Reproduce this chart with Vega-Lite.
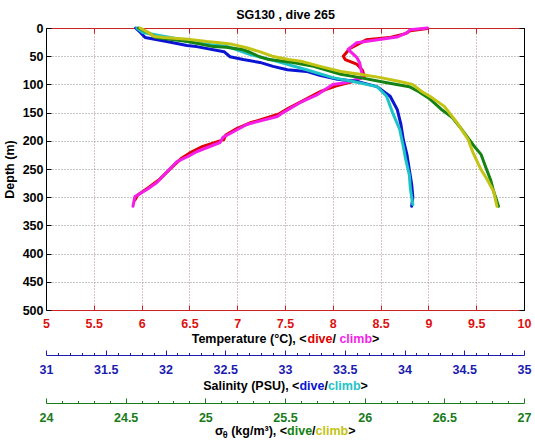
{
 "$schema": "https://vega.github.io/schema/vega-lite/v6.json",
 "width": 478, "height": 282,
 "autosize": {"type": "none"},
 "padding": {"left": 46, "top": 28, "right": 11, "bottom": 132},
 "background": "white",
 "datasets": {"prof": [
  {"var":"T","cast":"dive","depth":1,"value":8.99},{"var":"T","cast":"dive","depth":5,"value":8.81},{"var":"T","cast":"dive","depth":10,"value":8.76},{"var":"T","cast":"dive","depth":17,"value":8.59},{"var":"T","cast":"dive","depth":19,"value":8.46},{"var":"T","cast":"dive","depth":21,"value":8.35},{"var":"T","cast":"dive","depth":36,"value":8.18},{"var":"T","cast":"dive","depth":50,"value":8.11},{"var":"T","cast":"dive","depth":56,"value":8.13},{"var":"T","cast":"dive","depth":64,"value":8.25},{"var":"T","cast":"dive","depth":75,"value":8.31},{"var":"T","cast":"dive","depth":86,"value":8.33},{"var":"T","cast":"dive","depth":95,"value":8.21},{"var":"T","cast":"dive","depth":103,"value":8.03},{"var":"T","cast":"dive","depth":112,"value":7.88},{"var":"T","cast":"dive","depth":127,"value":7.71},{"var":"T","cast":"dive","depth":143,"value":7.53},{"var":"T","cast":"dive","depth":153,"value":7.43},{"var":"T","cast":"dive","depth":168,"value":7.14},{"var":"T","cast":"dive","depth":178,"value":7.00},{"var":"T","cast":"dive","depth":190,"value":6.88},{"var":"T","cast":"dive","depth":198,"value":6.86},{"var":"T","cast":"dive","depth":210,"value":6.64},{"var":"T","cast":"dive","depth":220,"value":6.52},{"var":"T","cast":"dive","depth":232,"value":6.41},{"var":"T","cast":"dive","depth":248,"value":6.31},{"var":"T","cast":"dive","depth":268,"value":6.19},{"var":"T","cast":"dive","depth":283,"value":6.07},{"var":"T","cast":"dive","depth":296,"value":5.96},{"var":"T","cast":"dive","depth":305,"value":5.93},
  {"var":"T","cast":"climb","depth":0,"value":8.99},{"var":"T","cast":"climb","depth":3,"value":8.81},{"var":"T","cast":"climb","depth":8,"value":8.78},{"var":"T","cast":"climb","depth":16,"value":8.67},{"var":"T","cast":"climb","depth":18,"value":8.58},{"var":"T","cast":"climb","depth":26,"value":8.25},{"var":"T","cast":"climb","depth":38,"value":8.16},{"var":"T","cast":"climb","depth":52,"value":8.25},{"var":"T","cast":"climb","depth":61,"value":8.28},{"var":"T","cast":"climb","depth":77,"value":8.30},{"var":"T","cast":"climb","depth":88,"value":8.31},{"var":"T","cast":"climb","depth":97,"value":8.13},{"var":"T","cast":"climb","depth":100,"value":8.00},{"var":"T","cast":"climb","depth":118,"value":7.84},{"var":"T","cast":"climb","depth":132,"value":7.66},{"var":"T","cast":"climb","depth":150,"value":7.48},{"var":"T","cast":"climb","depth":157,"value":7.42},{"var":"T","cast":"climb","depth":171,"value":7.10},{"var":"T","cast":"climb","depth":184,"value":6.96},{"var":"T","cast":"climb","depth":194,"value":6.85},{"var":"T","cast":"climb","depth":203,"value":6.82},{"var":"T","cast":"climb","depth":219,"value":6.58},{"var":"T","cast":"climb","depth":228,"value":6.48},{"var":"T","cast":"climb","depth":237,"value":6.37},{"var":"T","cast":"climb","depth":251,"value":6.29},{"var":"T","cast":"climb","depth":274,"value":6.16},{"var":"T","cast":"climb","depth":286,"value":6.06},{"var":"T","cast":"climb","depth":299,"value":5.93},{"var":"T","cast":"climb","depth":316,"value":5.91},
  {"var":"S","cast":"dive","depth":0,"value":31.75},{"var":"S","cast":"dive","depth":8,"value":31.79},{"var":"S","cast":"dive","depth":17,"value":31.83},{"var":"S","cast":"dive","depth":24,"value":32.01},{"var":"S","cast":"dive","depth":31,"value":32.18},{"var":"S","cast":"dive","depth":33,"value":32.26},{"var":"S","cast":"dive","depth":42,"value":32.49},{"var":"S","cast":"dive","depth":51,"value":32.54},{"var":"S","cast":"dive","depth":56,"value":32.65},{"var":"S","cast":"dive","depth":61,"value":32.79},{"var":"S","cast":"dive","depth":68,"value":32.90},{"var":"S","cast":"dive","depth":74,"value":33.02},{"var":"S","cast":"dive","depth":77,"value":33.18},{"var":"S","cast":"dive","depth":84,"value":33.29},{"var":"S","cast":"dive","depth":91,"value":33.44},{"var":"S","cast":"dive","depth":95,"value":33.61},{"var":"S","cast":"dive","depth":104,"value":33.77},{"var":"S","cast":"dive","depth":121,"value":33.88},{"var":"S","cast":"dive","depth":145,"value":33.94},{"var":"S","cast":"dive","depth":171,"value":33.97},{"var":"S","cast":"dive","depth":198,"value":33.99},{"var":"S","cast":"dive","depth":224,"value":34.02},{"var":"S","cast":"dive","depth":251,"value":34.04},{"var":"S","cast":"dive","depth":277,"value":34.06},{"var":"S","cast":"dive","depth":300,"value":34.07},{"var":"S","cast":"dive","depth":316,"value":34.06},
  {"var":"S","cast":"climb","depth":0,"value":31.76},{"var":"S","cast":"climb","depth":8,"value":31.81},{"var":"S","cast":"climb","depth":20,"value":32.12},{"var":"S","cast":"climb","depth":24,"value":32.18},{"var":"S","cast":"climb","depth":29,"value":32.34},{"var":"S","cast":"climb","depth":33,"value":32.52},{"var":"S","cast":"climb","depth":47,"value":32.71},{"var":"S","cast":"climb","depth":56,"value":32.88},{"var":"S","cast":"climb","depth":74,"value":33.18},{"var":"S","cast":"climb","depth":88,"value":33.40},{"var":"S","cast":"climb","depth":95,"value":33.57},{"var":"S","cast":"climb","depth":104,"value":33.77},{"var":"S","cast":"climb","depth":121,"value":33.85},{"var":"S","cast":"climb","depth":150,"value":33.90},{"var":"S","cast":"climb","depth":180,"value":33.96},{"var":"S","cast":"climb","depth":210,"value":33.99},{"var":"S","cast":"climb","depth":233,"value":34.01},{"var":"S","cast":"climb","depth":260,"value":34.04},{"var":"S","cast":"climb","depth":286,"value":34.05},{"var":"S","cast":"climb","depth":300,"value":34.06},{"var":"S","cast":"climb","depth":313,"value":34.07},
  {"var":"D","cast":"dive","depth":0,"value":24.58},{"var":"D","cast":"dive","depth":8,"value":24.64},{"var":"D","cast":"dive","depth":17,"value":24.69},{"var":"D","cast":"dive","depth":24,"value":24.89},{"var":"D","cast":"dive","depth":33,"value":25.05},{"var":"D","cast":"dive","depth":34,"value":25.13},{"var":"D","cast":"dive","depth":38,"value":25.23},{"var":"D","cast":"dive","depth":43,"value":25.28},{"var":"D","cast":"dive","depth":51,"value":25.34},{"var":"D","cast":"dive","depth":56,"value":25.40},{"var":"D","cast":"dive","depth":61,"value":25.55},{"var":"D","cast":"dive","depth":68,"value":25.68},{"var":"D","cast":"dive","depth":82,"value":25.85},{"var":"D","cast":"dive","depth":88,"value":25.97},{"var":"D","cast":"dive","depth":97,"value":26.14},{"var":"D","cast":"dive","depth":104,"value":26.28},{"var":"D","cast":"dive","depth":113,"value":26.34},{"var":"D","cast":"dive","depth":126,"value":26.41},{"var":"D","cast":"dive","depth":144,"value":26.48},{"var":"D","cast":"dive","depth":159,"value":26.55},{"var":"D","cast":"dive","depth":180,"value":26.61},{"var":"D","cast":"dive","depth":207,"value":26.68},{"var":"D","cast":"dive","depth":224,"value":26.73},{"var":"D","cast":"dive","depth":247,"value":26.76},{"var":"D","cast":"dive","depth":269,"value":26.79},{"var":"D","cast":"dive","depth":290,"value":26.81},{"var":"D","cast":"dive","depth":316,"value":26.84},
  {"var":"D","cast":"climb","depth":0,"value":24.59},{"var":"D","cast":"climb","depth":6,"value":24.63},{"var":"D","cast":"climb","depth":15,"value":24.68},{"var":"D","cast":"climb","depth":17,"value":24.74},{"var":"D","cast":"climb","depth":20,"value":24.89},{"var":"D","cast":"climb","depth":24,"value":25.01},{"var":"D","cast":"climb","depth":26,"value":25.09},{"var":"D","cast":"climb","depth":29,"value":25.17},{"var":"D","cast":"climb","depth":35,"value":25.26},{"var":"D","cast":"climb","depth":42,"value":25.34},{"var":"D","cast":"climb","depth":50,"value":25.42},{"var":"D","cast":"climb","depth":56,"value":25.52},{"var":"D","cast":"climb","depth":59,"value":25.60},{"var":"D","cast":"climb","depth":68,"value":25.72},{"var":"D","cast":"climb","depth":77,"value":25.85},{"var":"D","cast":"climb","depth":82,"value":25.97},{"var":"D","cast":"climb","depth":88,"value":26.10},{"var":"D","cast":"climb","depth":95,"value":26.22},{"var":"D","cast":"climb","depth":100,"value":26.30},{"var":"D","cast":"climb","depth":113,"value":26.36},{"var":"D","cast":"climb","depth":123,"value":26.42},{"var":"D","cast":"climb","depth":139,"value":26.50},{"var":"D","cast":"climb","depth":168,"value":26.58},{"var":"D","cast":"climb","depth":198,"value":26.65},{"var":"D","cast":"climb","depth":221,"value":26.68},{"var":"D","cast":"climb","depth":251,"value":26.73},{"var":"D","cast":"climb","depth":269,"value":26.77},{"var":"D","cast":"climb","depth":290,"value":26.81},{"var":"D","cast":"climb","depth":316,"value":26.83}
 ]},
 "data": {"name": "prof"},
 "config": {
  "view": {"stroke": "black", "strokeWidth": 1},
  "axis": {"labelFont": "Liberation Sans", "labelFontSize": 12.5, "labelFontWeight": "bold", "titleFont": "Liberation Sans", "titleFontSize": 12.5, "titleFontWeight": "bold", "titleColor": "black", "labelFlush": false, "labelOverlap": false},
  "axisX": {"titleAlign": "left", "titleBaseline": "alphabetic", "titleY": 32, "titleAnchor": "start"}
 },
 "layer": [
  {
   "transform": [{"filter": "datum.var == 'T'"}],
   "mark": {"type": "line", "strokeWidth": 3, "strokeJoin": "round", "strokeCap": "round"},
   "encoding": {
    "x": {"field": "value", "type": "quantitative", "scale": {"domain": [5, 10], "nice": false, "zero": false},
     "axis": {"orient": "bottom", "values": [5,5.5,6,6.5,7,7.5,8,8.5,9,9.5,10], "format": "~g", "labelColor": "#dd1111", "labelPadding": 12, "tickSize": -5, "tickColor": "#cc2222", "domainColor": "#cc2222", "grid": true, "gridColor": "#b08888", "gridDash": [1, 2], "title": "Temperature (°C), <", "titleX": 145.2}},
    "y": {"field": "depth", "type": "quantitative", "scale": {"domain": [0, 500], "reverse": true, "nice": false, "zero": false},
     "axis": {"orient": "left", "values": [0,50,100,150,200,250,300,350,400,450,500], "grid": true, "gridColor": "#909090", "gridDash": [1, 2], "tickSize": -5, "tickColor": "black", "domainColor": "black", "labelColor": "black", "labelPadding": 8, "title": "Depth (m)", "titlePadding": 6}},
    "color": {"field": "cast", "type": "nominal", "scale": {"domain": ["dive", "climb"], "range": ["#e00000", "#f41ee8"]}, "legend": null},
    "order": {"field": "depth", "type": "quantitative"}
   }
  },
  {
   "transform": [{"filter": "datum.var == 'S'"}],
   "mark": {"type": "line", "strokeWidth": 3, "strokeJoin": "round", "strokeCap": "round"},
   "encoding": {
    "x": {"field": "value", "type": "quantitative", "scale": {"domain": [31, 35], "nice": false, "zero": false},
     "axis": {"orient": "bottom", "offset": 45, "values": [31,31.1,31.2,31.3,31.4,31.5,31.6,31.7,31.8,31.9,32,32.1,32.2,32.3,32.4,32.5,32.6,32.7,32.8,32.9,33,33.1,33.2,33.3,33.4,33.5,33.6,33.7,33.8,33.9,34,34.1,34.2,34.3,34.4,34.5,34.6,34.7,34.8,34.9,35],
      "labelExpr": "abs(datum.value*2-round(datum.value*2)) < 0.001 ? format(datum.value, '~g') : ''",
      "tickSize": {"condition": {"test": "abs(datum.value*2-round(datum.value*2)) < 0.001", "value": -5}, "value": -2.5},
      "labelColor": "#1b1bb0", "tickColor": "#1b1bb0", "domainColor": "#1b1bb0", "labelPadding": 13, "grid": false, "title": "Salinity (PSU), <", "titleX": 156.7, "titleY": 34}},
    "y": {"field": "depth", "type": "quantitative", "scale": {"domain": [0, 500], "reverse": true, "nice": false, "zero": false},
     "axis": {"orient": "right", "values": [0,50,100,150,200,250,300,350,400,450,500], "grid": false, "labels": false, "tickSize": -5, "tickColor": "black", "domainColor": "black", "title": null}},
    "color": {"field": "cast", "type": "nominal", "scale": {"domain": ["dive", "climb"], "range": ["#0a14d2", "#1ec3c8"]}, "legend": null},
    "order": {"field": "depth", "type": "quantitative"}
   }
  },
  {
   "transform": [{"filter": "datum.var == 'D'"}],
   "mark": {"type": "line", "strokeWidth": 3, "strokeJoin": "round", "strokeCap": "round"},
   "encoding": {
    "x": {"field": "value", "type": "quantitative", "scale": {"domain": [24, 27], "nice": false, "zero": false},
     "axis": {"orient": "bottom", "offset": 93, "values": [24,24.1,24.2,24.3,24.4,24.5,24.6,24.7,24.8,24.9,25,25.1,25.2,25.3,25.4,25.5,25.6,25.7,25.8,25.9,26,26.1,26.2,26.3,26.4,26.5,26.6,26.7,26.8,26.9,27],
      "labelExpr": "abs(datum.value*2-round(datum.value*2)) < 0.001 ? format(datum.value, '~g') : ''",
      "tickSize": {"condition": {"test": "abs(datum.value*2-round(datum.value*2)) < 0.001", "value": -5}, "value": -2.5},
      "labelColor": "#1a7a1a", "tickColor": "#1a7a1a", "domainColor": "#1a7a1a", "labelPadding": 13, "grid": false, "title": "σ", "titleX": 168.5, "titleY": 31}},
    "y": {"field": "depth", "type": "quantitative", "scale": {"domain": [0, 500], "reverse": true, "nice": false, "zero": false},
     "axis": {"orient": "left", "grid": false, "labels": false, "ticks": false, "domain": false, "title": null}},
    "color": {"field": "cast", "type": "nominal", "scale": {"domain": ["dive", "climb"], "range": ["#148214", "#c3c314"]}, "legend": null},
    "order": {"field": "depth", "type": "quantitative"}
   }
  },
  {"transform": [{"filter": "false"}], "mark": {"type": "point", "opacity": 0},
   "encoding": {"x": {"field": "value", "type": "quantitative", "scale": {"domain": [5, 10], "nice": false, "zero": false},
    "axis": {"orient": "top", "values": [5,5.5,6,6.5,7,7.5,8,8.5,9,9.5,10], "labels": false, "tickSize": -5, "tickColor": "#cc2222", "domainColor": "#cc2222", "grid": false, "title": "SG130 , dive 265", "titleX": 239, "titleY": -9.5, "titleAlign": "center", "titleBaseline": "alphabetic"}}}},
  {"transform": [{"filter": "false"}], "mark": {"type": "point", "opacity": 0},
   "encoding": {"x": {"field": "value", "type": "quantitative", "scale": {"domain": [0, 1]},
    "axis": {"orient": "bottom", "offset": 0, "domain": false, "ticks": false, "labels": false, "grid": false, "title": "dive", "titleX": 261.0, "titleColor": "#e00000"}}}},
  {"transform": [{"filter": "false"}], "mark": {"type": "point", "opacity": 0},
   "encoding": {"x": {"field": "value", "type": "quantitative", "scale": {"domain": [0, 1]},
    "axis": {"orient": "bottom", "offset": 0, "domain": false, "ticks": false, "labels": false, "grid": false, "title": "/", "titleX": 286.0}}}},
  {"transform": [{"filter": "false"}], "mark": {"type": "point", "opacity": 0},
   "encoding": {"x": {"field": "value", "type": "quantitative", "scale": {"domain": [0, 1]},
    "axis": {"orient": "bottom", "offset": 0, "domain": false, "ticks": false, "labels": false, "grid": false, "title": "climb", "titleX": 292.9, "titleColor": "#f41ee8"}}}},
  {"transform": [{"filter": "false"}], "mark": {"type": "point", "opacity": 0},
   "encoding": {"x": {"field": "value", "type": "quantitative", "scale": {"domain": [0, 1]},
    "axis": {"orient": "bottom", "offset": 0, "domain": false, "ticks": false, "labels": false, "grid": false, "title": ">", "titleX": 325.6}}}},
  {"transform": [{"filter": "false"}], "mark": {"type": "point", "opacity": 0},
   "encoding": {"x": {"field": "value", "type": "quantitative", "scale": {"domain": [0, 1]},
    "axis": {"orient": "bottom", "offset": 45, "domain": false, "ticks": false, "labels": false, "grid": false, "title": "dive", "titleX": 252.9, "titleY": 34, "titleColor": "#0a14d2"}}}},
  {"transform": [{"filter": "false"}], "mark": {"type": "point", "opacity": 0},
   "encoding": {"x": {"field": "value", "type": "quantitative", "scale": {"domain": [0, 1]},
    "axis": {"orient": "bottom", "offset": 45, "domain": false, "ticks": false, "labels": false, "grid": false, "title": "/", "titleX": 277.9, "titleY": 34}}}},
  {"transform": [{"filter": "false"}], "mark": {"type": "point", "opacity": 0},
   "encoding": {"x": {"field": "value", "type": "quantitative", "scale": {"domain": [0, 1]},
    "axis": {"orient": "bottom", "offset": 45, "domain": false, "ticks": false, "labels": false, "grid": false, "title": "climb", "titleX": 281.4, "titleY": 34, "titleColor": "#1ec3c8"}}}},
  {"transform": [{"filter": "false"}], "mark": {"type": "point", "opacity": 0},
   "encoding": {"x": {"field": "value", "type": "quantitative", "scale": {"domain": [0, 1]},
    "axis": {"orient": "bottom", "offset": 45, "domain": false, "ticks": false, "labels": false, "grid": false, "title": ">", "titleX": 314.0, "titleY": 34}}}},
  {"transform": [{"filter": "false"}], "mark": {"type": "point", "opacity": 0},
   "encoding": {"x": {"field": "value", "type": "quantitative", "scale": {"domain": [0, 1]},
    "axis": {"orient": "bottom", "offset": 93, "domain": false, "ticks": false, "labels": false, "grid": false, "title": "θ", "titleX": 176.2, "titleY": 34, "titleFontSize": 9}}}},
  {"transform": [{"filter": "false"}], "mark": {"type": "point", "opacity": 0},
   "encoding": {"x": {"field": "value", "type": "quantitative", "scale": {"domain": [0, 1]},
    "axis": {"orient": "bottom", "offset": 93, "domain": false, "ticks": false, "labels": false, "grid": false, "title": "(kg/m³), <", "titleX": 184.7, "titleY": 31}}}},
  {"transform": [{"filter": "false"}], "mark": {"type": "point", "opacity": 0},
   "encoding": {"x": {"field": "value", "type": "quantitative", "scale": {"domain": [0, 1]},
    "axis": {"orient": "bottom", "offset": 93, "domain": false, "ticks": false, "labels": false, "grid": false, "title": "dive", "titleX": 240.6, "titleY": 31, "titleColor": "#148214"}}}},
  {"transform": [{"filter": "false"}], "mark": {"type": "point", "opacity": 0},
   "encoding": {"x": {"field": "value", "type": "quantitative", "scale": {"domain": [0, 1]},
    "axis": {"orient": "bottom", "offset": 93, "domain": false, "ticks": false, "labels": false, "grid": false, "title": "/", "titleX": 265.6, "titleY": 31}}}},
  {"transform": [{"filter": "false"}], "mark": {"type": "point", "opacity": 0},
   "encoding": {"x": {"field": "value", "type": "quantitative", "scale": {"domain": [0, 1]},
    "axis": {"orient": "bottom", "offset": 93, "domain": false, "ticks": false, "labels": false, "grid": false, "title": "climb", "titleX": 269.1, "titleY": 31, "titleColor": "#c3c314"}}}},
  {"transform": [{"filter": "false"}], "mark": {"type": "point", "opacity": 0},
   "encoding": {"x": {"field": "value", "type": "quantitative", "scale": {"domain": [0, 1]},
    "axis": {"orient": "bottom", "offset": 93, "domain": false, "ticks": false, "labels": false, "grid": false, "title": ">", "titleX": 301.7, "titleY": 31}}}}
 ],
 "resolve": {"scale": {"x": "independent", "color": "independent"}, "axis": {"y": "independent"}}
}
